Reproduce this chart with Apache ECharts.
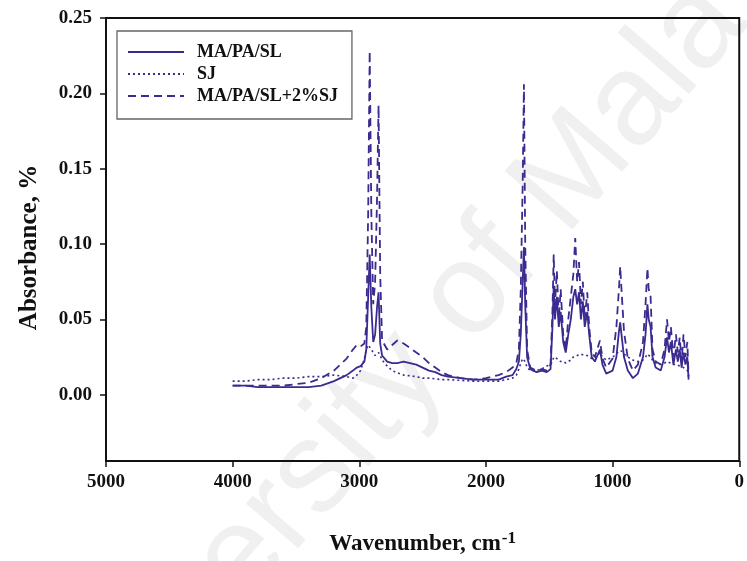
<!DOCTYPE html>
<html>
<head>
<meta charset="utf-8">
<script src="https://cdn.jsdelivr.net/npm/echarts@6/dist/echarts.min.js"></script>
<style>
  html, body { margin: 0; padding: 0; background: #fff; }
  #chart { width: 747px; height: 561px; }
</style>
</head>
<body>
<div id="chart"></div>
<script>
// FTIR spectra: wavenumber (cm-1) and absorbance of each sample
const wavenumbers = [
  4000, 3900, 3800, 3700, 3600, 3500, 3400, 3300, 3200, 3100,
  3050, 3020, 2990, 2960, 2945, 2930, 2918, 2905, 2890, 2875, 2860, 2848, 2835, 2820,
  2780, 2740, 2700, 2650, 2600, 2550, 2500, 2450, 2400, 2350, 2300, 2200, 2100, 2000,
  1900, 1840, 1790, 1760, 1740, 1725, 1710, 1700, 1690, 1675, 1650, 1600,
  1560, 1520, 1490, 1475, 1465, 1455, 1440, 1425, 1410, 1390,
  1370, 1350, 1330, 1310, 1295, 1280, 1265, 1250, 1235, 1220,
  1200, 1185, 1165, 1140, 1100, 1080, 1050, 1000, 970, 950,
  940, 930, 910, 880, 840, 800, 760, 740, 725, 715,
  700, 685, 660, 620, 590, 570, 555, 540, 520, 500,
  485, 470, 455, 440, 425, 410, 400
];

const maPaSl = [
  0.006, 0.006, 0.005, 0.005, 0.005, 0.005, 0.005, 0.006, 0.009, 0.013,
  0.016, 0.018, 0.019, 0.022, 0.030, 0.065, 0.093, 0.058, 0.035, 0.040, 0.058, 0.068, 0.034, 0.026,
  0.022, 0.021, 0.021, 0.022, 0.021, 0.020, 0.018, 0.016, 0.015, 0.013, 0.012, 0.011, 0.010, 0.010,
  0.010, 0.012, 0.013, 0.017, 0.022, 0.040, 0.075, 0.098, 0.060, 0.025, 0.017, 0.015,
  0.016, 0.015, 0.017, 0.045, 0.072, 0.050, 0.065, 0.045, 0.055, 0.035,
  0.028, 0.040, 0.050, 0.065, 0.070, 0.060, 0.068, 0.050, 0.062, 0.045,
  0.055, 0.040, 0.025, 0.022, 0.030, 0.020, 0.014, 0.016, 0.025, 0.042,
  0.048, 0.040, 0.025, 0.016, 0.011, 0.014, 0.025, 0.040, 0.060, 0.050,
  0.045, 0.025, 0.018, 0.016, 0.025, 0.038, 0.028, 0.035, 0.020, 0.030,
  0.022, 0.030, 0.018, 0.028, 0.020, 0.025, 0.010
];

const sj = [
  0.009, 0.009, 0.010, 0.010, 0.011, 0.011, 0.012, 0.012, 0.013, 0.012,
  0.011, 0.013, 0.016, 0.024, 0.030, 0.033, 0.032, 0.030, 0.028, 0.026, 0.027, 0.028, 0.026, 0.023,
  0.019, 0.016, 0.0145, 0.013, 0.0125, 0.012, 0.011, 0.011, 0.0105, 0.010, 0.010, 0.0095, 0.009, 0.009,
  0.009, 0.010, 0.011, 0.013, 0.017, 0.021, 0.024, 0.025, 0.022, 0.018, 0.016, 0.016,
  0.017, 0.019, 0.020, 0.022, 0.025, 0.024, 0.024, 0.023, 0.022, 0.022,
  0.021, 0.022, 0.023, 0.025, 0.026, 0.026, 0.027, 0.027, 0.027, 0.026,
  0.026, 0.025, 0.024, 0.024, 0.028, 0.025, 0.023, 0.025, 0.027, 0.029,
  0.030, 0.029, 0.027, 0.025, 0.023, 0.022, 0.023, 0.025, 0.027, 0.026,
  0.025, 0.023, 0.021, 0.020, 0.021, 0.022, 0.021, 0.021, 0.020, 0.020,
  0.019, 0.019, 0.018, 0.018, 0.017, 0.016, 0.015
];

const maPaSlSj = [
  0.006, 0.006, 0.006, 0.006, 0.006, 0.007, 0.008, 0.011, 0.016, 0.024,
  0.030, 0.033, 0.032, 0.034, 0.045, 0.120, 0.228, 0.120, 0.060, 0.075, 0.130, 0.192, 0.080, 0.036,
  0.030, 0.033, 0.036, 0.034, 0.031, 0.028, 0.025, 0.021, 0.018, 0.015, 0.013, 0.011, 0.010, 0.011,
  0.013, 0.015, 0.018, 0.021, 0.030, 0.070, 0.140, 0.206, 0.100, 0.030, 0.018, 0.016,
  0.017, 0.016, 0.020, 0.055, 0.093, 0.060, 0.082, 0.050, 0.070, 0.040,
  0.030, 0.050, 0.065, 0.080, 0.104, 0.075, 0.088, 0.060, 0.075, 0.050,
  0.068, 0.045, 0.028, 0.025, 0.036, 0.024, 0.018, 0.024, 0.045, 0.070,
  0.085, 0.070, 0.042, 0.024, 0.016, 0.020, 0.035, 0.060, 0.084, 0.070,
  0.065, 0.030, 0.022, 0.020, 0.030, 0.050, 0.035, 0.045, 0.025, 0.040,
  0.028, 0.038, 0.022, 0.040, 0.025, 0.035, 0.012
];

const seriesNames = ['MA/PA/SL', 'SJ', 'MA/PA/SL+2%SJ'];
const yTicks = [0, 0.05, 0.10, 0.15, 0.20, 0.25];

const ink = '#3b2a8f';
const serif = '"Liberation Serif", "Times New Roman", serif';

const pairs = vals => wavenumbers.map((w, i) => [w, vals[i]]);

const chart = echarts.init(document.getElementById('chart'), null, { renderer: 'canvas' });

chart.setOption({
  animation: false,
  backgroundColor: '#ffffff',
  graphic: [{
    type: 'text',
    x: 430,
    y: 340,
    rotation: 0.86,
    z: -10,
    silent: true,
    style: {
      text: 'University of Malaya',
      font: '130px "Liberation Sans", Arial, sans-serif',
      fill: '#f0f0f0',
      align: 'center',
      verticalAlign: 'middle'
    }
  }],
  grid: {
    left: 106, right: 4, top: 18, bottom: 98,
    show: true,
    borderColor: '#111',
    borderWidth: 2,
    backgroundColor: 'transparent'
  },
  legend: {
    data: seriesNames,
    orient: 'vertical',
    left: 117,
    top: 31,
    itemWidth: 56,
    itemHeight: 14,
    itemGap: 4,
    padding: [12, 14, 14, 10],
    borderColor: '#666',
    borderWidth: 1.3,
    backgroundColor: '#fff',
    itemStyle: { opacity: 0 },
    textStyle: {
      fontFamily: serif,
      fontWeight: 'bold',
      fontSize: 18,
      color: '#111',
      padding: [0, 0, 0, 8]
    }
  },
  xAxis: {
    type: 'value',
    min: 0,
    max: 5000,
    interval: 1000,
    inverse: true,
    name: 'Wavenumber, cm{sup|-1}',
    nameLocation: 'middle',
    nameGap: 69,
    nameTextStyle: {
      fontFamily: serif,
      fontWeight: 'bold',
      fontSize: 23,
      color: '#111',
      rich: {
        sup: {
          fontFamily: serif,
          fontWeight: 'bold',
          fontSize: 17,
          color: '#111',
          verticalAlign: 'top',
          padding: [0, 0, 12, 1]
        }
      }
    },
    axisLine: { show: true, onZero: false, lineStyle: { color: '#111', width: 2 } },
    axisTick: { show: true, inside: false, length: 6, lineStyle: { color: '#111', width: 1.5 } },
    axisLabel: {
      margin: 12,
      fontFamily: serif,
      fontWeight: 'bold',
      fontSize: 19,
      color: '#111',
      formatter: v => String(v)
    },
    splitLine: { show: false }
  },
  yAxis: {
    type: 'value',
    min: -0.044,
    max: 0.25,
    name: 'Absorbance, %',
    nameLocation: 'middle',
    nameGap: 64,
    nameRotate: 90,
    nameTextStyle: {
      fontFamily: serif,
      fontWeight: 'bold',
      fontSize: 25,
      color: '#111',
      padding: [0, 16, 0, 0]
    },
    axisLine: { show: true, onZero: false, lineStyle: { color: '#111', width: 2 } },
    axisTick: {
      show: true, inside: false, length: 6,
      customValues: yTicks,
      lineStyle: { color: '#111', width: 1.5 }
    },
    axisLabel: {
      customValues: yTicks,
      margin: 14,
      fontFamily: serif,
      fontWeight: 'bold',
      fontSize: 19,
      color: '#111',
      formatter: v => v.toFixed(2)
    },
    splitLine: { show: false }
  },
  series: [
    {
      name: seriesNames[0],
      type: 'line',
      data: pairs(maPaSl),
      showSymbol: false,
      symbol: 'none',
      color: ink,
      lineStyle: { color: ink, width: 1.8, type: 'solid' }
    },
    {
      name: seriesNames[1],
      type: 'line',
      data: pairs(sj),
      showSymbol: false,
      symbol: 'none',
      color: ink,
      lineStyle: { color: ink, width: 1.6, type: [2, 3] }
    },
    {
      name: seriesNames[2],
      type: 'line',
      data: pairs(maPaSlSj),
      showSymbol: false,
      symbol: 'none',
      color: ink,
      lineStyle: { color: ink, width: 1.8, type: [8, 5] }
    }
  ]
});
</script>
</body>
</html>
